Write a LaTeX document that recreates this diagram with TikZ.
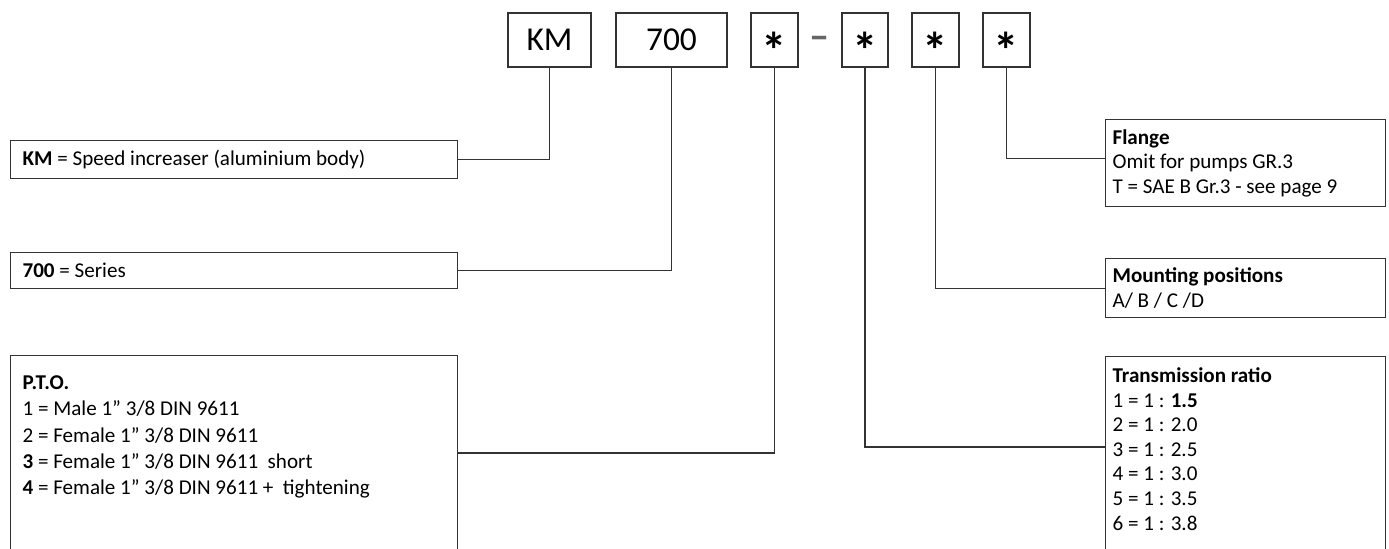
\documentclass[tikz,border=0pt]{standalone}
\usepackage{fontspec}
\setmainfont{Carlito}
\usetikzlibrary{positioning}

\begin{document}
\begin{tikzpicture}[x=0.02cm, y=-0.02cm,
    codebox/.style={draw=black!80, line width=0.8pt, minimum height=1.08cm, inner sep=0pt, font=\fontsize{19}{19}\selectfont},
    starbox/.style={codebox, minimum width=0.94cm, font=\fontsize{29}{29}\selectfont\bfseries},
    descbox/.style={draw=black!80, line width=0.7pt, anchor=north west, inner ysep=0pt},
    leftbox/.style={descbox, inner xsep=0.24cm, font=\fontsize{12}{15}\selectfont},
    rightbox/.style={descbox, inner xsep=0.14cm, font=\fontsize{12}{14}\selectfont},
    link/.style={draw=black!80, line width=0.6pt},
]
    \useasboundingbox (0,0) rectangle (1389,548);

    % order code
    \node[codebox, minimum width=1.66cm] (km) at (549.5,40) {KM};
    \node[codebox, minimum width=2.22cm] (series) at (671.5,40) {700};
    \node[starbox] (pto) at (774.5,40) {\raisebox{-0.56em}[0pt][0pt]{*}};
    \node[font=\fontsize{23}{23}\selectfont\bfseries, text=black!60] (dash) at (820,39) {\raisebox{-0.27em}[0pt][0pt]{–}};
    \node[starbox, minimum width=0.92cm] (ratio) at (865,40) {\raisebox{-0.56em}[0pt][0pt]{*}};
    \node[starbox] (mount) at (935.5,40) {\raisebox{-0.56em}[0pt][0pt]{*}};
    \node[starbox] (flange) at (1006.5,40) {\raisebox{-0.56em}[0pt][0pt]{*}};

    % left descriptions
    \node[leftbox, minimum height=0.76cm] (kmtext) at (10,140)
        {\parbox{8.46cm}{\raggedright \textbf{KM} = Speed increaser (aluminium body)}};
    \node[leftbox, minimum height=0.72cm] (seriestext) at (10,252)
        {\parbox{8.46cm}{\raggedright \textbf{700} = Series}};
    \node[leftbox, inner ysep=0.4cm] (ptotext) at (10,355)
        {\parbox[t][3.4cm][t]{8.46cm}{\raggedright
        \textbf{P.T.O.}\\
        1 = Male 1” 3/8 DIN 9611\\
        2 = Female 1” 3/8 DIN 9611\\
        \textbf{3} = Female 1” 3/8 DIN 9611\ \ short\\
        \textbf{4} = Female 1” 3/8 DIN 9611 +\ \ tightening}};

    % right descriptions
    \node[rightbox, minimum height=1.74cm] (flangetext) at (1105,119)
        {\parbox{5.32cm}{\raggedright
        \textbf{Flange}\\ Omit for pumps GR.3\\ T = SAE B Gr.3 - see page 9}};
    \node[rightbox, minimum height=1.18cm] (mounttext) at (1105,258)
        {\parbox{5.32cm}{\raggedright
        \textbf{Mounting positions}\\ A/ B / C /D}};
    \node[rightbox, inner ysep=0.22cm] (ratiotext) at (1105,356)
        {\parbox[t][3.8cm][t]{5.32cm}{\raggedright
        \textbf{Transmission ratio}\\
        1 = 1 : \textbf{1.5}\\
        2 = 1 : 2.0\\
        3 = 1 : 2.5\\
        4 = 1 : 3.0\\
        5 = 1 : 3.5\\
        6 = 1 : 3.8}};

    % connectors
    \draw[link] (km.south) |- (kmtext.east);
    \draw[link] (series.south) |- (seriestext.east);
    \draw[link] (pto.south) |- ([yshift=-1.96cm]ptotext.north east);
    \draw[link] (ratio.south) |- ([yshift=-1.82cm]ratiotext.north west);
    \draw[link] (mount.south) |- (mounttext.west);
    \draw[link] (flange.south) |- ([yshift=0.09cm]flangetext.west);
\end{tikzpicture}
\end{document}
